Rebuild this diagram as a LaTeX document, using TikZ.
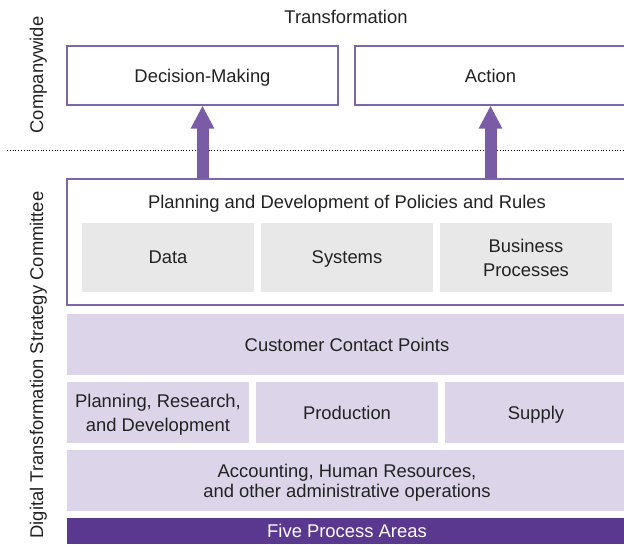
\documentclass[tikz,border=0pt]{standalone}
\usepackage{fontspec}
\setmainfont{Liberation Sans}
\usepackage{xcolor}
\usepackage{tikz}
\usetikzlibrary{positioning, arrows.meta}
\definecolor{frameline}{HTML}{7E66AC}
\definecolor{arrowfill}{HTML}{7A5BA6}
\definecolor{lilac}{HTML}{DCD5E9}
\definecolor{deeppurple}{HTML}{5B3890}
\definecolor{softgray}{HTML}{E8E8E8}
\definecolor{inktext}{HTML}{222222}
\tikzset
{
    every node/.style={font=\fontsize{18.4}{24}\selectfont, text=inktext, inner sep=0pt, align=center, text depth=-4pt},
    framebox/.style={draw=frameline, line width=1.2pt, fill=white}, % white boxes with purple edge
    greybox/.style={fill=softgray, minimum width=172pt, minimum height=69pt},
    lilacbox/.style={fill=lilac, minimum height=61pt},
    sidelabel/.style={rotate=90},
    bigarrow/.style={-{Triangle[width=22pt, length=23pt]}, line width=12pt, draw=arrowfill},
}

\begin{document}
\begin{tikzpicture}[x=1pt, y=-1pt]
    \useasboundingbox (0,0) rectangle (624,544);
    \clip (0,0) rectangle (624,544);

    % Companywide
    \node[sidelabel] (cw) at (36.5,75) {Companywide};
    \node (trans) at (346,16.5) {Transformation};
    \node[framebox, minimum width=271pt, minimum height=59pt] (dec) at (202.5,75.5) {Decision-Making};
    \node[framebox, minimum width=271pt, minimum height=59pt] (act) at (490.5,75.5) {Action};

    % Trennlinie
    \coordinate (dl) at (7,150);
    \coordinate (dr) at (624,150);
    \draw[dotted, line width=0.8pt] (dl) -- (dr);

    % Committee
    \node[sidelabel] (dtsc) at (36.5,365) {Digital Transformation Strategy Committee};
    \node[framebox, minimum width=560pt, minimum height=126pt] (pol) at (347,242) {};
    \node (poltitle) at (347,201.5) {Planning and Development of Policies and Rules};
    \node[greybox] (data) at (168,257.5) {Data};
    \node[greybox] (sys) at (347,257.5) {Systems};
    \node[greybox] (bp) at (526,257.5) {Business\\Processes};

    % Pfeile
    \draw[bigarrow] (pol.north -| dec.south) -- (dec.south);
    \draw[bigarrow] (pol.north -| act.south) -- (act.south);

    % Process areas
    \node[lilacbox, minimum width=560pt] (ccp) at (347,344.5) {Customer Contact Points};
    \node[lilacbox, minimum width=182pt] (prd) at (158,412.5) {Planning, Research,\\and Development};
    \node[lilacbox, minimum width=182pt] (prod) at (347,412.5) {Production};
    \node[lilacbox, minimum width=182pt] (sup) at (536,412.5) {Supply};
    \node[lilacbox, minimum width=560pt] (acc) at (347,480.5) {Accounting, Human Resources,\\[-4pt]and other administrative operations};
    \node[fill=deeppurple, text=white, minimum width=560pt, minimum height=26pt] (five) at (347,531) {Five Process Areas};
\end{tikzpicture}
\end{document}
